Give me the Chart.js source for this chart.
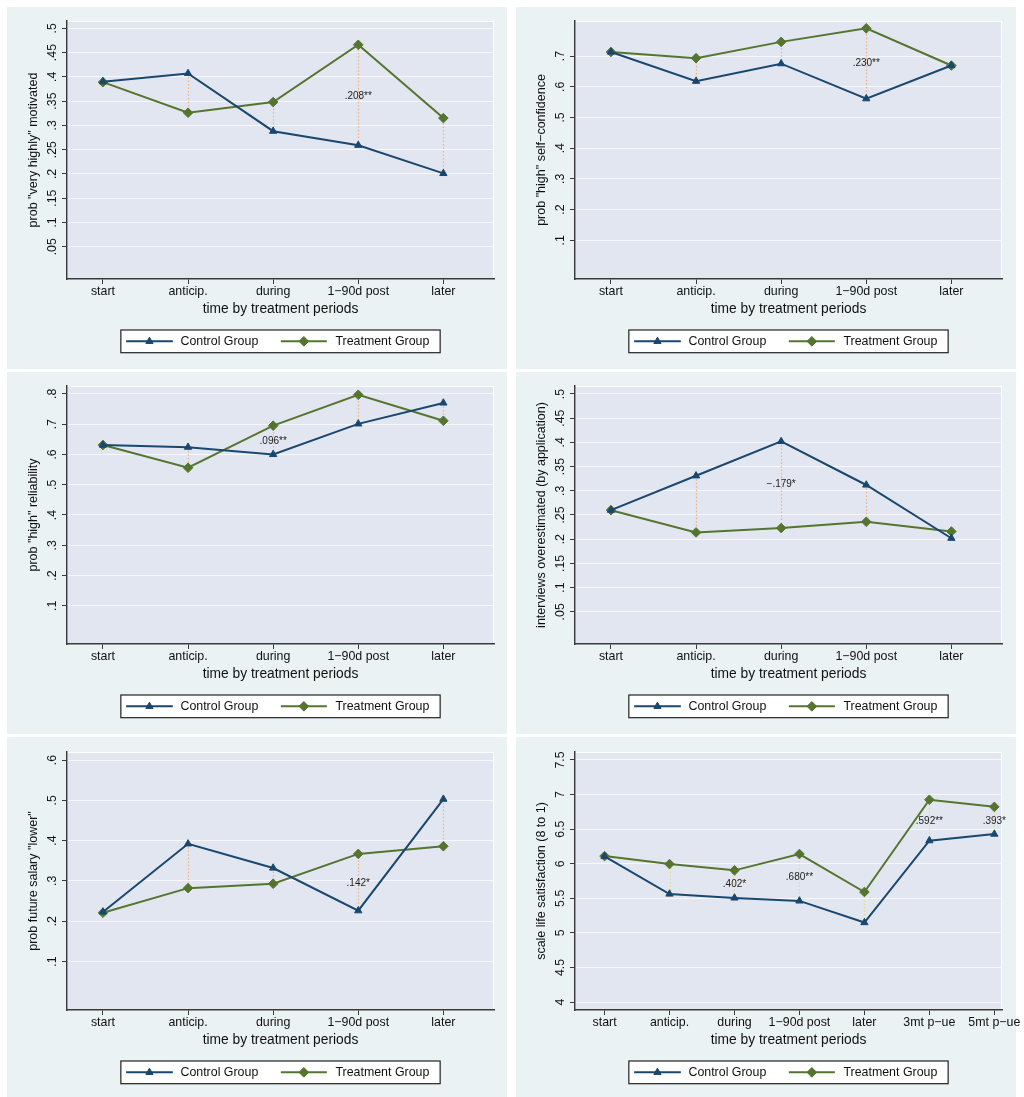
<!DOCTYPE html>
<html><head><meta charset="utf-8">
<script src="https://cdn.jsdelivr.net/npm/chart.js@4/dist/chart.umd.min.js"></script>
<style>
html,body{margin:0;padding:0;background:#fff;width:1024px;height:1097px;overflow:hidden;position:relative}
.panel{position:absolute;background:#EAF2F3}
canvas.c{position:absolute}
</style></head><body>
<script>
// ---------- categories ----------
const periods5 = ['start', 'anticip.', 'during', '1\u221290d post', 'later'];
const periods7 = ['start', 'anticip.', 'during', '1\u221290d post', 'later', '3mt p\u2212ue', '5mt p\u2212ue'];

// ---------- series values ----------
const motivControl = [0.390, 0.407, 0.288, 0.259, 0.201];
const motivTreat   = [0.389, 0.326, 0.348, 0.466, 0.315];

const confControl  = [0.713, 0.618, 0.675, 0.561, 0.669];
const confTreat    = [0.713, 0.693, 0.746, 0.790, 0.669];

const reliaControl = [0.631, 0.624, 0.600, 0.701, 0.770];
const reliaTreat   = [0.631, 0.556, 0.695, 0.797, 0.711];

const interControl = [0.260, 0.331, 0.402, 0.312, 0.202];
const interTreat   = [0.260, 0.214, 0.223, 0.236, 0.216];

const salaryControl = [0.223, 0.392, 0.332, 0.226, 0.503];
const salaryTreat   = [0.221, 0.282, 0.293, 0.367, 0.386];

const lifeControl = [6.106, 5.562, 5.505, 5.462, 5.149, 6.333, 6.428];
const lifeTreat   = [6.110, 5.995, 5.904, 6.140, 5.591, 6.925, 6.822];

// ---------- annotation texts (category index, anchor value, text) ----------
const motivNotes  = [{i: 3, v: 0.361, t: '.208**'}];
const confNotes   = [{i: 3, v: 0.675, t: '.230**'}];
const reliaNotes  = [{i: 2, v: 0.645, t: '.096**'}];
const interNotes  = [{i: 2, v: 0.313, t: '\u2212.179*'}];
const salaryNotes = [{i: 3, v: 0.295, t: '.142*'}];
const lifeNotes   = [{i: 2, v: 5.697, t: '.402*'}, {i: 3, v: 5.798, t: '.680**'}, {i: 5, v: 6.62, t: '.592**'}, {i: 6, v: 6.62, t: '.393*'}];

// ---------- tick values and labels ----------
const ticks05to50 = [0.05, 0.10, 0.15, 0.20, 0.25, 0.30, 0.35, 0.40, 0.45, 0.50];
const labels05to50 = ['.05', '.1', '.15', '.2', '.25', '.3', '.35', '.4', '.45', '.5'];
const ticks1to7 = [0.1, 0.2, 0.3, 0.4, 0.5, 0.6, 0.7];
const labels1to7 = ['.1', '.2', '.3', '.4', '.5', '.6', '.7'];
const ticks1to8 = [0.1, 0.2, 0.3, 0.4, 0.5, 0.6, 0.7, 0.8];
const labels1to8 = ['.1', '.2', '.3', '.4', '.5', '.6', '.7', '.8'];
const ticks1to6 = [0.1, 0.2, 0.3, 0.4, 0.5, 0.6];
const labels1to6 = ['.1', '.2', '.3', '.4', '.5', '.6'];
const ticksLife = [4, 4.5, 5, 5.5, 6, 6.5, 7, 7.5];
const labelsLife = ['4', '4.5', '5', '5.5', '6', '6.5', '7', '7.5'];

const xTitle = 'time by treatment periods';
const seriesNames = ['Control Group', 'Treatment Group'];

// ---------- styles ----------
const NAVY = '#1A476F', GREEN = '#55752F', AXIS = '#3a3a3a', GRID = '#F7F8FB', PLOT = '#E1E6F0';
const FONT = "'Liberation Sans', Arial, Helvetica, sans-serif";
Chart.defaults.font.family = FONT;

const panels = [
  {col: 0, row: 0, cats: periods5, c: motivControl, t: motivTreat, notes: motivNotes, yTitle: 'prob "very highly" motivated', yMin: -0.0165, yMax: 0.515, yt: ticks05to50, yl: labels05to50, xMin: 0.5775, xMax: 5.595, conn: '#F4B07C'},
  {col: 1, row: 0, cats: periods5, c: confControl, t: confTreat, notes: confNotes, yTitle: 'prob "high" self\u2212confidence', yMin: -0.026, yMax: 0.814, yt: ticks1to7, yl: labels1to7, xMin: 0.5775, xMax: 5.595, conn: '#F4B07C'},
  {col: 0, row: 1, cats: periods5, c: reliaControl, t: reliaTreat, notes: reliaNotes, yTitle: 'prob "high" reliability', yMin: -0.026, yMax: 0.826, yt: ticks1to8, yl: labels1to8, xMin: 0.5775, xMax: 5.595, conn: '#F4B07C'},
  {col: 1, row: 1, cats: periods5, c: interControl, t: interTreat, notes: interNotes, yTitle: 'interviews overestimated (by application)', yMin: -0.0165, yMax: 0.5165, yt: ticks05to50, yl: labels05to50, xMin: 0.5775, xMax: 5.595, conn: '#F4B07C'},
  {col: 0, row: 2, cats: periods5, c: salaryControl, t: salaryTreat, notes: salaryNotes, yTitle: 'prob future salary "lower"', yMin: -0.0205, yMax: 0.62, yt: ticks1to6, yl: labels1to6, xMin: 0.5775, xMax: 5.595, conn: '#F4B07C'},
  {col: 1, row: 2, cats: periods7, c: lifeControl, t: lifeTreat, notes: lifeNotes, yTitle: 'scale life satisfaction (8 to 1)', yMin: 3.885, yMax: 7.615, yt: ticksLife, yl: labelsLife, xMin: 0.545, xMax: 7.118, conn: '#EADB8C'}
];

const rowTops = [7, 372, 737];
const canvasTops = [7, 372, 738];
const rowH = [362, 362, 360];
const colLefts = [7, 516];
const canvasW = [500, 508];
const yAxisW = [60, 59];
const padRight = [13, 22];

function deco(p) {
  return {
    id: 'deco',
    beforeDraw(chart) {
      const {ctx, chartArea: a} = chart;
      ctx.save();
      ctx.fillStyle = PLOT;
      ctx.fillRect(a.left, a.top, a.right - a.left, a.bottom - a.top);
      ctx.strokeStyle = '#FFFFFF';
      ctx.lineWidth = 1;
      ctx.strokeRect(a.left + 0.5, a.top + 0.5, a.right - a.left - 1, a.bottom - a.top - 1);
      ctx.restore();
    },
    beforeDatasetsDraw(chart) {
      const {ctx} = chart;
      const m0 = chart.getDatasetMeta(0).data, m1 = chart.getDatasetMeta(1).data;
      ctx.save();
      ctx.strokeStyle = p.conn;
      ctx.lineWidth = 1.2;
      ctx.setLineDash([1.5, 2]);
      for (let i = 1; i < m0.length; i++) {
        ctx.beginPath();
        ctx.moveTo(Math.round(m0[i].x) + 0.5, m0[i].y);
        ctx.lineTo(Math.round(m0[i].x) + 0.5, m1[i].y);
        ctx.stroke();
      }
      ctx.restore();
    },
    afterDatasetsDraw(chart) {
      const {ctx, scales: {x, y}} = chart;
      ctx.save();
      ctx.fillStyle = '#222';
      ctx.font = '10px ' + FONT;
      ctx.textAlign = 'center';
      ctx.textBaseline = 'middle';
      p.notes.forEach(n => ctx.fillText(n.t, x.getPixelForValue(n.i + 1), y.getPixelForValue(n.v)));
      ctx.restore();
    },
    afterDraw(chart) {
      const {ctx, chartArea: a, scales: {y}} = chart;
      // y tick labels, rotated like the original
      ctx.save();
      ctx.fillStyle = '#111';
      ctx.font = '12.4px ' + FONT;
      ctx.textAlign = 'center';
      ctx.textBaseline = 'middle';
      p.yt.forEach((v, k) => {
        ctx.save();
        ctx.translate(a.left - 14.8, y.getPixelForValue(v));
        ctx.rotate(-Math.PI / 2);
        ctx.fillText(p.yl[k], 0, 0);
        ctx.restore();
      });
      ctx.restore();
      // legend
      const bw = 319.3, bh = 22.7;
      const bx = (a.left + a.right) / 2 - bw / 2, by = 323;
      const cy = by + bh / 2;
      ctx.save();
      ctx.fillStyle = '#FFFFFF';
      ctx.fillRect(bx, by, bw, bh);
      ctx.strokeStyle = '#222';
      ctx.lineWidth = 1.2;
      ctx.strokeRect(bx, by, bw, bh);
      const items = [
        {x0: 5.3, x1: 52, mx: 28.6, tx: 59.6, color: NAVY, style: 'triangle', r: 4.2, name: seriesNames[0]},
        {x0: 160, x1: 206, mx: 183, tx: 214.6, color: GREEN, style: 'rectRot', r: 4.8, name: seriesNames[1]}
      ];
      items.forEach(it => {
        ctx.strokeStyle = it.color;
        ctx.fillStyle = it.color;
        ctx.lineWidth = 2;
        ctx.beginPath();
        ctx.moveTo(bx + it.x0, cy);
        ctx.lineTo(bx + it.x1, cy);
        ctx.stroke();
        ctx.lineWidth = 1;
        Chart.helpers.drawPoint(ctx, {pointStyle: it.style, radius: it.r, borderWidth: 1, rotation: 0}, bx + it.mx, cy);
        ctx.fillStyle = '#111';
        ctx.font = '12.4px ' + FONT;
        ctx.textAlign = 'left';
        ctx.textBaseline = 'middle';
        ctx.fillText(it.name, bx + it.tx, cy + 0.5);
      });
      ctx.restore();
    }
  };
}

panels.forEach(p => {
  const bg = document.createElement('div');
  bg.className = 'panel';
  bg.style.left = colLefts[p.col] + 'px';
  bg.style.top = rowTops[p.row] + 'px';
  bg.style.width = '500px';
  bg.style.height = rowH[p.row] + 'px';
  document.body.appendChild(bg);

  const cv = document.createElement('canvas');
  cv.className = 'c';
  cv.width = canvasW[p.col];
  cv.height = 362;
  cv.style.left = colLefts[p.col] + 'px';
  cv.style.top = canvasTops[p.row] + 'px';
  cv.style.width = canvasW[p.col] + 'px';
  cv.style.height = '362px';
  document.body.appendChild(cv);

  const W = yAxisW[p.col];
  new Chart(cv, {
    type: 'line',
    data: {
      datasets: [
        {label: seriesNames[0], data: p.c.map((v, i) => ({x: i + 1, y: v})), borderColor: NAVY, backgroundColor: NAVY,
         pointStyle: 'triangle', pointRadius: 4.2, pointBorderWidth: 1, borderWidth: 2, tension: 0, fill: false},
        {label: seriesNames[1], data: p.t.map((v, i) => ({x: i + 1, y: v})), borderColor: GREEN, backgroundColor: GREEN,
         pointStyle: 'rectRot', pointRadius: 4.8, pointBorderWidth: 1, borderWidth: 2, tension: 0, fill: false}
      ]
    },
    options: {
      responsive: false, animation: false, devicePixelRatio: 1,
      layout: {padding: {left: 0, top: 14, right: padRight[p.col], bottom: 0}},
      plugins: {legend: {display: false}, tooltip: {enabled: false}},
      scales: {
        x: {
          type: 'linear', position: 'bottom', min: p.xMin, max: p.xMax,
          afterBuildTicks: s => { s.ticks = p.cats.map((c, i) => ({value: i + 1})); },
          ticks: {callback: (v, idx) => p.cats[idx], autoSkip: false, maxRotation: 0, minRotation: 0, padding: 0, color: '#111', font: {size: 12.4}},
          grid: {drawOnChartArea: false, drawTicks: true, tickLength: 5, color: AXIS, tickColor: AXIS, tickWidth: 1},
          border: {color: AXIS, width: 1.5},
          title: {display: true, text: xTitle, color: '#111', font: {size: 13.8}, padding: {top: 0, bottom: 51.4}},
          afterFit: s => { s.height = 90; s.paddingLeft = 0; s.paddingRight = 0; }
        },
        y: {
          type: 'linear', position: 'left', min: p.yMin, max: p.yMax,
          afterBuildTicks: s => { s.ticks = p.yt.map(v => ({value: v})); },
          ticks: {display: false},
          grid: {drawOnChartArea: true, drawTicks: true, tickLength: 5, color: GRID, tickColor: AXIS, lineWidth: 1, tickWidth: 1},
          border: {color: AXIS, width: 1.5},
          title: {display: true, text: p.yTitle, color: '#111', font: {size: 12.5}, padding: {top: W - 33.5 - 7.5, bottom: 0}},
          afterFit: s => { s.width = W; s.paddingTop = 0; s.paddingBottom = 0; }
        }
      }
    },
    plugins: [deco(p)]
  });
});
</script>
</body></html>
